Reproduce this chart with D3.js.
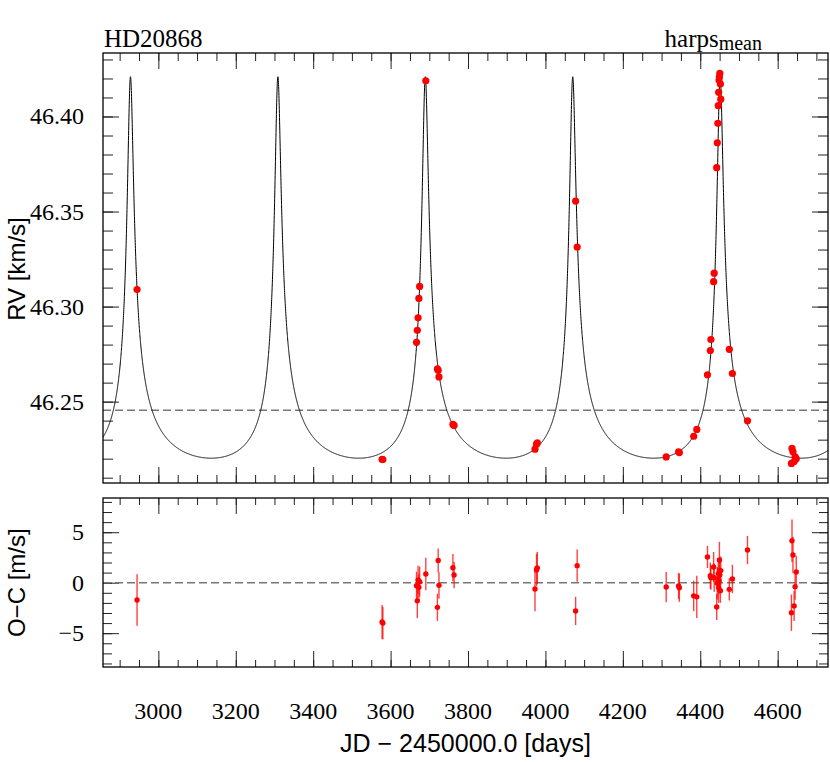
<!DOCTYPE html>
<html>
<head>
<meta charset="utf-8">
<script src="https://cdn.jsdelivr.net/npm/d3@7/dist/d3.min.js"></script>
<style>
body { margin: 0; background: #fff; }
.serif { font-family: "Liberation Serif", "Times New Roman", serif; }
.sans { font-family: "Liberation Sans", Arial, sans-serif; }
.tick line { stroke: #222; stroke-width: 1; }
</style>
</head>
<body>
<div id="chart"></div>
<script>
// epochs of the harps measurements, JD - 2450000
var obsDays = [2945, 3578, 3580, 3667, 3669, 3671, 3673, 3675, 3691,
    3721, 3723, 3725, 3761, 3764, 3973, 3977, 3979, 4078, 4082,
    4312, 4344, 4346, 4383, 4391, 4418.6, 4426, 4427.5, 4434.5, 4436,
    4442.5, 4444, 4445.5, 4446.5, 4447.5, 4448.5, 4449.5, 4450.5, 4452, 4453,
    4475, 4483, 4522, 4635.5, 4637, 4639.5, 4642.5, 4645, 4648];

// radial velocities [km/s]
var rvValues = [46.3090, 46.2197, 46.2195, 46.2812, 46.2875, 46.2941, 46.3043, 46.3106, 46.4188,
    46.2672, 46.2665, 46.2630, 46.2380, 46.2375, 46.2250, 46.2276, 46.2283, 46.3555, 46.3313,
    46.2209, 46.2236, 46.2232, 46.2318, 46.2354, 46.2641, 46.2769, 46.2827, 46.3131, 46.3176,
    46.3731, 46.3862, 46.3964, 46.4057, 46.4127, 46.4192, 46.4209, 46.4227, 46.4171, 46.4091,
    46.2775, 46.2648, 46.2399, 46.2175, 46.2254, 46.2236, 46.2185, 46.2210, 46.2199];

// residuals and their errors [m/s]
var ocValues = [-1.71, -3.9, -4.0, -0.3, -1.8, 0.27, -0.46, 0.1, 0.86,
    -2.44, 2.2, -0.26, 1.49, 0.76, -0.63, 1.26, 1.45, -2.8, 1.69,
    -0.43, -0.33, -0.5, -1.3, -1.4, 2.55, 0.7, 0.5, 1.55, 0.5,
    -2.4, -0.06, 0.27, 0.9, -0.5, 0.2, 2.25, 0.76, -0.8, 1.2,
    -0.66, 0.37, 3.24, -2.97, 4.16, 2.74, -2.3, -0.4, 1.06];
var ocErrors = [2.55, 1.7, 1.6, 1.4, 1.7, 1.4, 1.3, 1.5, 1.6,
    1.35, 1.2, 1.3, 1.35, 1.3, 2.2, 1.6, 1.6, 1.4, 1.6,
    1.5, 1.3, 1.4, 1.5, 2.1, 1.1, 1.3, 1.2, 1.5, 1.4,
    1.3, 1.6, 1.2, 1.4, 1.5, 1.3, 1.8, 1.5, 1.2, 1.4,
    1.1, 1.4, 1.4, 1.8, 2.1, 1.8, 1.5, 1.3, 1.6];

var xTicks = [3000, 3200, 3400, 3600, 3800, 4000, 4200, 4400, 4600];
var rvTicks = [46.25, 46.30, 46.35, 46.40];
var rvTickLabels = ["46.25", "46.30", "46.35", "46.40"];
var ocTicks = [-5, 0, 5];
var ocTickLabels = ["\u22125", "0", "5"];

// fitted orbit
var orbitPeriod = 380.85,
    orbitEcc = 0.75,
    orbitK = 0.10034,        // km/s
    orbitOmega = 356.2,      // deg
    orbitTp = 4451,
    systemGamma = 46.2455;

var width = 830, height = 762;
var left = 103, right = 828,
    topY0 = 53, topY1 = 483,
    botY0 = 498, botY1 = 667;

var svg = d3.select("#chart")
    .append("svg")
    .attr("width", width)
    .attr("height", height);

var x = d3.scaleLinear().domain([2857, 4730]).range([left, right]);
var yRV = d3.scaleLinear().domain([46.2072, 46.4334]).range([topY1, topY0]);
var yOC = d3.scaleLinear().domain([-8.35, 8.39]).range([botY1, botY0]);

var xMinor = d3.range(2900, 4730, 50);
var rvMinor = d3.range(46.21, 46.435, 0.01);
var ocMinor = d3.range(-8, 9, 1);

function keplerRV(t) {
    var M = 2 * Math.PI * (t - orbitTp) / orbitPeriod;
    M = M - 2 * Math.PI * Math.floor(M / (2 * Math.PI));
    var E = orbitEcc > 0.8 ? Math.PI : M;
    for (var i = 0; i < 60; i++) {
        E = E - (E - orbitEcc * Math.sin(E) - M) / (1 - orbitEcc * Math.cos(E));
    }
    var nu = 2 * Math.atan(Math.sqrt((1 + orbitEcc) / (1 - orbitEcc)) * Math.tan(E / 2));
    var w = orbitOmega * Math.PI / 180;
    return systemGamma + orbitK * (Math.cos(nu + w) + orbitEcc * Math.cos(w));
}

/*
    clip paths for the two panels
*/
var defs = svg.append("defs");
defs.append("clipPath").attr("id", "clipTop")
    .append("rect").attr("x", left).attr("y", topY0)
    .attr("width", right - left).attr("height", topY1 - topY0);
defs.append("clipPath").attr("id", "clipBot")
    .append("rect").attr("x", left).attr("y", botY0)
    .attr("width", right - left).attr("height", botY1 - botY0);

function drawTicks(g, axisFn, scale, values, size, pos) {
    g.append("g")
        .attr("transform", pos)
        .call(axisFn(scale).tickValues(values).tickSize(-size).tickFormat(""))
        .call(function(a) { a.select(".domain").remove(); });
}

function frameTicks(y, y0, y1, majorY, minorY, xShort, yShort) {
    drawTicks(svg, d3.axisBottom, x, xMinor, xShort, "translate(0," + y1 + ")");
    drawTicks(svg, d3.axisBottom, x, xTicks, 16, "translate(0," + y1 + ")");
    drawTicks(svg, d3.axisTop, x, xMinor, xShort, "translate(0," + y0 + ")");
    drawTicks(svg, d3.axisTop, x, xTicks, 16, "translate(0," + y0 + ")");
    drawTicks(svg, d3.axisLeft, y, minorY, yShort, "translate(" + left + ",0)");
    drawTicks(svg, d3.axisLeft, y, majorY, 16, "translate(" + left + ",0)");
    drawTicks(svg, d3.axisRight, y, minorY, yShort, "translate(" + right + ",0)");
    drawTicks(svg, d3.axisRight, y, majorY, 16, "translate(" + right + ",0)");
}

// y tick labels, right aligned left of the frame
function yLabels(scale, values, labels) {
    svg.append("g").selectAll("text")
        .data(values)
        .enter().append("text")
        .attr("class", "serif")
        .attr("x", left - 19)
        .attr("y", function(d) { return scale(d) + 8; })
        .attr("text-anchor", "end")
        .attr("font-size", 24)
        .text(function(d, i) { return labels[i]; });
}

/*
    top panel: RV + orbit
*/
frameTicks(yRV, topY0, topY1, rvTicks, rvMinor, 8, 10);

svg.append("line")
    .attr("x1", left).attr("x2", right)
    .attr("y1", yRV(systemGamma)).attr("y2", yRV(systemGamma))
    .attr("stroke", "#777").attr("stroke-width", 1.5)
    .attr("stroke-dasharray", "8,4");

var curveDays = d3.range(2857, 4730, 0.25);
var line = d3.line()
    .x(function(d) { return x(d); })
    .y(function(d) { return yRV(keplerRV(d)); });

svg.append("path")
    .datum(curveDays)
    .attr("clip-path", "url(#clipTop)")
    .attr("d", line)
    .attr("fill", "none")
    .attr("stroke", "#000")
    .attr("stroke-width", 1);

svg.append("g").selectAll("circle")
    .data(obsDays)
    .enter().append("circle")
    .attr("cx", function(d) { return x(d); })
    .attr("cy", function(d, i) { return yRV(rvValues[i]); })
    .attr("r", 3.6)
    .attr("fill", "#ff0000");

svg.append("rect")
    .attr("x", left).attr("y", topY0)
    .attr("width", right - left).attr("height", topY1 - topY0)
    .attr("fill", "none").attr("stroke", "#000").attr("stroke-width", 1.3);

yLabels(yRV, rvTicks, rvTickLabels);

/*
    bottom panel: residuals
*/
frameTicks(yOC, botY0, botY1, ocTicks, ocMinor, 7, 9);

svg.append("line")
    .attr("x1", left).attr("x2", right)
    .attr("y1", yOC(0)).attr("y2", yOC(0))
    .attr("stroke", "#777").attr("stroke-width", 1.5)
    .attr("stroke-dasharray", "8,4");

var res = svg.append("g").attr("clip-path", "url(#clipBot)");

res.selectAll(".errbar")
    .data(obsDays)
    .enter().append("line")
    .attr("class", "errbar")
    .attr("x1", function(d) { return x(d); })
    .attr("x2", function(d) { return x(d); })
    .attr("y1", function(d, i) { return yOC(ocValues[i] - ocErrors[i]); })
    .attr("y2", function(d, i) { return yOC(ocValues[i] + ocErrors[i]); })
    .attr("stroke", "#ff0000")
    .attr("stroke-opacity", 0.75)
    .attr("stroke-width", 1.4);

res.selectAll(".resid")
    .data(obsDays)
    .enter().append("circle")
    .attr("class", "resid")
    .attr("cx", function(d) { return x(d); })
    .attr("cy", function(d, i) { return yOC(ocValues[i]); })
    .attr("r", 2.7)
    .attr("fill", "#ff0000");

svg.append("rect")
    .attr("x", left).attr("y", botY0)
    .attr("width", right - left).attr("height", botY1 - botY0)
    .attr("fill", "none").attr("stroke", "#000").attr("stroke-width", 1.3);

yLabels(yOC, ocTicks, ocTickLabels);

svg.append("g").selectAll("text")
    .data(xTicks)
    .enter().append("text")
    .attr("class", "serif")
    .attr("x", function(d) { return x(d); })
    .attr("y", botY1 + 52)
    .attr("text-anchor", "middle")
    .attr("font-size", 24)
    .text(function(d) { return d; });

/*
    titles and axis labels
*/
svg.append("text")
    .attr("class", "serif")
    .attr("x", 104).attr("y", 47)
    .attr("font-size", 25)
    .text("HD20868");

var inst = svg.append("text")
    .attr("class", "serif")
    .attr("x", 762).attr("y", 47)
    .attr("text-anchor", "end")
    .attr("font-size", 25)
    .text("harps");
inst.append("tspan")
    .attr("font-size", 20)
    .attr("dy", 3)
    .text("mean");

svg.append("text")
    .attr("class", "sans")
    .attr("transform", "translate(25," + ((topY0 + topY1) / 2 + 1) + ") rotate(-90)")
    .attr("text-anchor", "middle")
    .attr("font-size", 24)
    .text("RV [km/s]");

svg.append("text")
    .attr("class", "sans")
    .attr("transform", "translate(25," + yOC(0) + ") rotate(-90)")
    .attr("text-anchor", "middle")
    .attr("font-size", 24)
    .text("O\u2212C [m/s]");

svg.append("text")
    .attr("class", "sans")
    .attr("x", (left + right) / 2).attr("y", 752)
    .attr("text-anchor", "middle")
    .attr("font-size", 25)
    .text("JD \u2212 2450000.0 [days]");
</script>
</body>
</html>
